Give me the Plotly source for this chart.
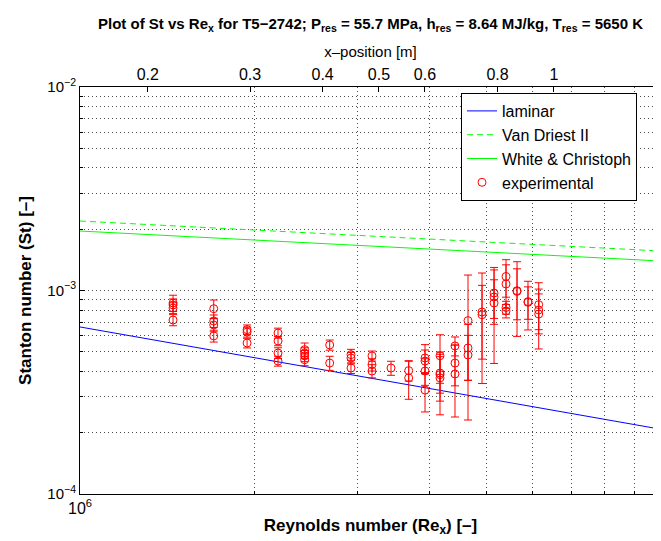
import numpy as np
import plotly.graph_objects as go

# ---------------- data ----------------
# Theory curves (Reynolds number, Stanton number)
re_theory = [1e6, 1e7]
st_laminar = [6.62e-4, 2.08e-4]
st_van_driest = [2.195e-3, 1.563e-3]
st_white_christoph = [1.96e-3, 1.396e-3]

# Experimental data: gauge Reynolds numbers and St values (units of 1e-4)
re_gauges = [1.446e6, 1.699e6, 1.939e6, 2.192e6, 2.436e6, 2.690e6, 2.927e6,
             3.181e6, 3.430e6, 3.679e6, 3.925e6, 4.165e6, 4.420e6, 4.654e6,
             4.920e6, 5.160e6, 5.411e6, 5.652e6, 5.903e6, 6.159e6]
st_gauges_e4 = [
    [8.68, 8.49, 8.20, 7.16],
    [8.14, 7.08, 6.77, 5.98],
    [6.42, 6.25, 5.52],
    [6.18, 5.65, 4.93, 4.50],
    [5.12, 4.93, 4.77, 4.57],
    [5.40, 4.40],
    [4.84, 4.66, 4.16],
    [4.77, 4.32, 4.02],
    [4.16],
    [4.04, 3.72],
    [4.66, 4.50, 4.02, 3.24],
    [4.78, 3.93, 3.86, 3.72],
    [5.34, 4.40, 3.89],
    [7.11, 5.22, 4.82],
    [7.84, 7.60],
    [9.72, 9.29, 8.68],
    [11.72, 10.77, 8.25, 7.93],
    [9.90, 9.98],
    [8.75, 8.82],
    [8.52, 8.02, 7.66],
]
err_gauges_e4 = [
    [0.80, 0.60, 0.50, 0.45],
    [0.84, 0.50, 0.50, 0.40],
    [0.35, 0.35, 0.30],
    [0.35, 0.30, 0.30, 0.25],
    [0.40, 0.30, 0.30, 0.30],
    [0.31, 0.35],
    [0.30, 0.30, 0.25],
    [0.27, 0.30, 0.30],
    [0.33],
    [0.45, 0.80],
    [0.76, 0.60, 0.60, 0.71],
    [1.28, 0.80, 1.00, 1.27],
    [0.57, 1.00, 1.50],
    [4.80, 1.60, 1.20],
    [4.35, 3.00],
    [2.90, 2.00, 4.30],
    [2.45, 2.60, 0.60, 0.60],
    [3.95, 2.80],
    [2.35, 1.60],
    [2.40, 1.60, 2.50],
]
ST_UNIT = 1e-4

# top axis: x-position [m]; Re_x per metre of the flow
RE_PER_M = 6.54e6
xpos_ticks = [0.2, 0.3, 0.4, 0.5, 0.6, 0.8, 1]
xpos_labels = ["0.2", "0.3", "0.4", "0.5", "0.6", "0.8", "1"]

title_text = ("<b>Plot of St vs Re<sub>x</sub> for T5\u22122742; P<sub>res</sub> = 55.7 MPa, "
              "h<sub>res</sub> = 8.64 MJ/kg, T<sub>res</sub> = 5650 K</b>")

# ---------------- build ----------------
re_exp, st_exp, err_exp = [], [], []
for r, sts, errs in zip(re_gauges, st_gauges_e4, err_gauges_e4):
    for s, e in zip(sts, errs):
        re_exp.append(r)
        st_exp.append(s * ST_UNIT)
        err_exp.append(e * ST_UNIT)

FONT = "Liberation Sans, Arial, Helvetica, sans-serif"

fig = go.Figure()
fig.add_trace(go.Scatter(x=re_theory, y=st_laminar, mode="lines", name="laminar",
                         line=dict(color="#0000ff", width=1)))
fig.add_trace(go.Scatter(x=re_theory, y=st_van_driest, mode="lines", name="Van Driest II",
                         line=dict(color="#00ff00", width=1, dash="6px,4px")))
fig.add_trace(go.Scatter(x=re_theory, y=st_white_christoph, mode="lines",
                         name="White & Christoph", line=dict(color="#00ff00", width=1)))
fig.add_trace(go.Scatter(x=re_exp, y=st_exp, mode="markers", name="experimental",
                         marker=dict(symbol="circle-open", color="#ff0000", size=8,
                                     line=dict(width=1, color="#ff0000")),
                         error_y=dict(type="data", array=err_exp, visible=True,
                                      color="#ff0000", thickness=1, width=4)))
# empty trace that anchors the top (x-position) axis
fig.add_trace(go.Scatter(x=[r / RE_PER_M for r in re_theory], y=[None, None],
                         xaxis="x2", yaxis="y", mode="markers", showlegend=False,
                         hoverinfo="skip", marker=dict(opacity=0)))

dec_x = [1e6, 1e7]
minor_x = [k * 1e6 for k in range(2, 10)]
dec_y = [1e-4, 1e-3, 1e-2]
minor_y = [k * d for d in (1e-4, 1e-3) for k in range(2, 10)]

grid = dict(showgrid=True, gridcolor="rgba(0,0,0,0.7)", gridwidth=1, griddash="1px,3px")

fig.update_layout(
    width=661, height=541,
    margin=dict(l=72, r=8, t=79, b=55, autoexpand=False),
    paper_bgcolor="white", plot_bgcolor="white",
    font=dict(family=FONT, size=15, color="black"),
    title=dict(text=title_text, x=0.5, xref="paper", xanchor="center",
               y=1 - 16 / 541, yref="container", yanchor="middle",
               font=dict(family=FONT, size=15, color="black")),
    showlegend=True,
    legend=dict(x=(453 - 72) / 581, y=(486 - 85) / 407, xanchor="left", yanchor="top",
                bgcolor="white", bordercolor="black", borderwidth=1,
                font=dict(family=FONT, size=16), tracegroupgap=0),
    xaxis=dict(type="log", range=[6, 7], tickmode="array", tickvals=dec_x,
               ticktext=["10<sup>6</sup>", "10<sup>7</sup>"], tickfont=dict(size=16),
               ticks="inside", ticklen=5, tickcolor="black", automargin=False,
               showline=True, linecolor="black", linewidth=1, mirror=True,
               minor=dict(tickmode="array", tickvals=minor_x, ticks="inside", ticklen=3,
                          tickcolor="black", **grid),
               **grid,
               title=dict(text="<b>Reynolds number (Re<sub>x</sub>) [\u2013]</b>",
                          font=dict(size=17), standoff=2),
               zeroline=False),
    xaxis2=dict(type="log", overlaying="x", side="top", anchor="y",
                range=[np.log10(1e6 / RE_PER_M), np.log10(1e7 / RE_PER_M)],
                tickmode="array", tickvals=xpos_ticks, ticktext=xpos_labels,
                tickfont=dict(size=16),
                ticks="inside", ticklen=5, tickcolor="black", showgrid=False,
                showline=True, linecolor="black", automargin=False,
                title=dict(text="x\u2013position [m]", font=dict(size=15), standoff=4),
                zeroline=False),
    yaxis=dict(type="log", range=[-4, -2], tickmode="array", tickvals=dec_y,
               ticktext=["10<sup>\u22124</sup>", "10<sup>\u22123</sup>", "10<sup>\u22122</sup>"],
               tickfont=dict(size=15),
               ticks="inside", ticklen=5, tickcolor="black", automargin=False,
               showline=True, linecolor="black", linewidth=1, mirror="ticks",
               minor=dict(tickmode="array", tickvals=minor_y, ticks="inside", ticklen=3,
                          tickcolor="black", **grid),
               **grid,
               title=dict(text="<b>Stanton number (St) [\u2013]</b>",
                          font=dict(size=17), standoff=11),
               zeroline=False),
)

fig.write_html("out.html")
